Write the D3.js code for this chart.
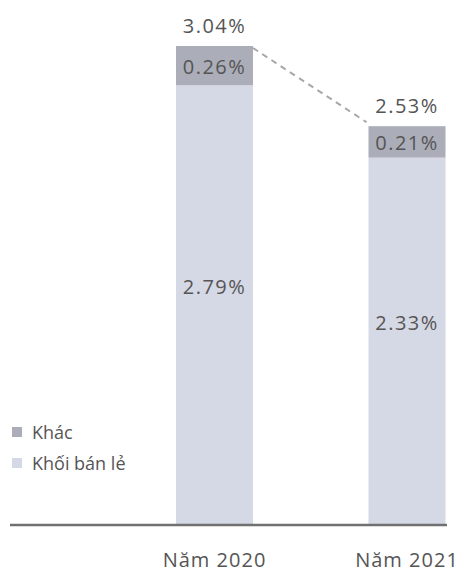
<!DOCTYPE html>
<html><head><meta charset="utf-8">
<script src="https://cdn.jsdelivr.net/npm/d3@7"></script>
<style>body{margin:0;background:#fff}svg{display:block}text{font-family:"Open Sans",sans-serif;fill:#555}</style>
</head><body><svg id="c" width="468" height="578"></svg>
<script>
const categories = ["Năm 2020", "Năm 2021"];
const seriesNames = ["Khối bán lẻ", "Khác"];
const retail = [2.79, 2.33];
const other = [0.26, 0.21];
const totals = [3.04, 2.53];
const retailLabels = ["2.79%", "2.33%"];
const otherLabels = ["0.26%", "0.21%"];
const totalLabels = ["3.04%", "2.53%"];
const colors = {"Khối bán lẻ": "#d5d8e5", "Khác": "#abadb9"};

const svg = d3.select("#c");
const base = 524;
const x = d3.scaleBand().domain(categories).range([60.5, 561]).padding(0.6);
const y = d3.scaleLinear().domain([0, 3.04]).range([base, 46]);

const data = categories.map((c, i) => ({c, retail: retail[i], other: other[i], total: totals[i], i}));

svg.selectAll("rect.retail").data(data).join("rect").attr("class", "retail")
  .attr("x", d => x(d.c)).attr("width", x.bandwidth())
  .attr("y", d => y(d.retail)).attr("height", d => y(0) - y(d.retail))
  .attr("fill", colors["Khối bán lẻ"]);
svg.selectAll("rect.other").data(data).join("rect").attr("class", "other")
  .attr("x", d => x(d.c)).attr("width", x.bandwidth())
  .attr("y", d => y(d.total)).attr("height", d => y(d.retail) - y(d.total))
  .attr("fill", colors["Khác"]);

svg.append("line")
  .attr("x1", x(categories[0]) + x.bandwidth()).attr("y1", y(totals[0]) + 2)
  .attr("x2", x(categories[1]) - 2).attr("y2", y(totals[1]) - 4)
  .attr("stroke", "#a8a8a8").attr("stroke-width", 2).attr("stroke-dasharray", "6,5");

svg.append("line").attr("x1", 10).attr("x2", 447).attr("y1", base + 1).attr("y2", base + 1)
  .attr("stroke", "#707070").attr("stroke-width", 2.5);

const fs = 20, ls = 1.5;
svg.selectAll("text.tot").data(data).join("text").attr("class", "tot")
  .attr("x", d => x(d.c) + x.bandwidth() / 2).attr("y", d => y(d.total) - 13)
  .attr("text-anchor", "middle").attr("font-size", fs).attr("letter-spacing", ls)
  .text(d => totalLabels[d.i]);
svg.selectAll("text.oth").data(data).join("text").attr("class", "oth")
  .attr("x", d => x(d.c) + x.bandwidth() / 2).attr("y", d => (y(d.total) + y(d.retail)) / 2 + 8)
  .attr("text-anchor", "middle").attr("font-size", fs).attr("letter-spacing", ls)
  .text(d => otherLabels[d.i]);
svg.selectAll("text.ret").data(data).join("text").attr("class", "ret")
  .attr("x", d => x(d.c) + x.bandwidth() / 2).attr("y", d => (y(d.retail) + y(0)) / 2 - 11)
  .attr("text-anchor", "middle").attr("font-size", fs).attr("letter-spacing", ls)
  .text(d => retailLabels[d.i]);

svg.selectAll("text.xl").data(data).join("text").attr("class", "xl")
  .attr("x", d => x(d.c) + x.bandwidth() / 2).attr("y", 567)
  .attr("text-anchor", "middle").attr("font-size", fs).attr("letter-spacing", 1)
  .text(d => d.c);

const leg = [seriesNames[1], seriesNames[0]];
const lg = svg.selectAll("g.leg").data(leg).join("g").attr("class", "leg")
  .attr("transform", (d, i) => `translate(12, ${427 + i * 31})`);
lg.append("rect").attr("width", 10).attr("height", 10).attr("fill", d => colors[d]);
lg.append("text").attr("x", 20).attr("y", 12).attr("font-size", 18).text(d => d);
</script></body></html>
